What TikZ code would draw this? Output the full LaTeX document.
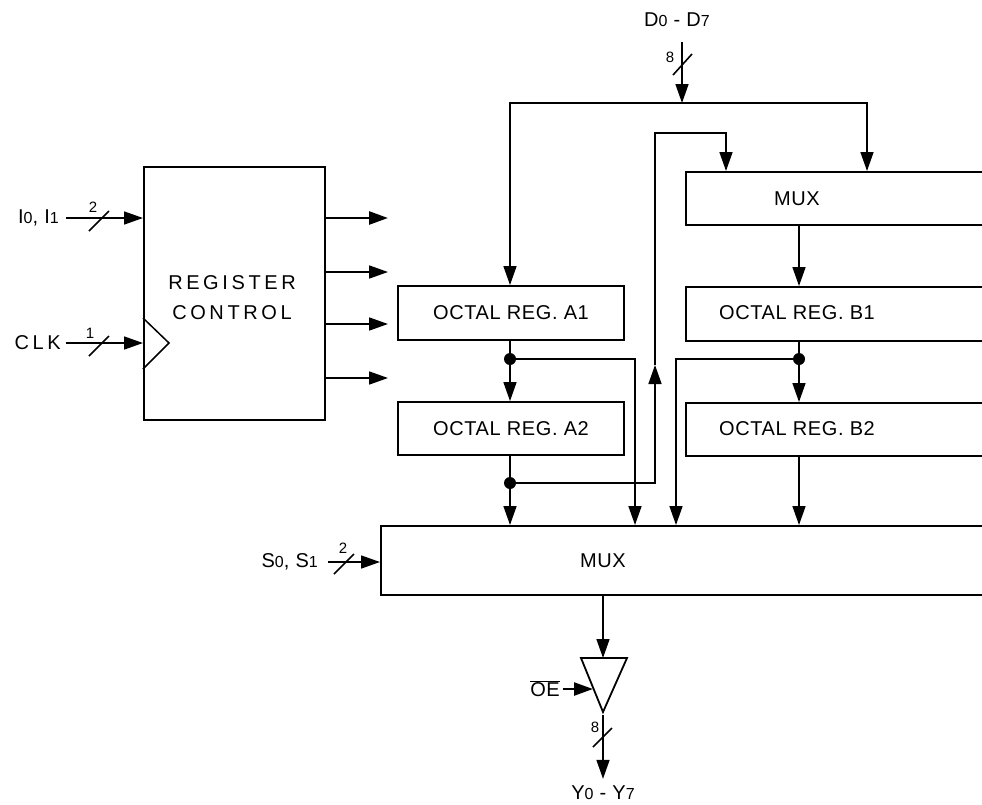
\documentclass[tikz,border=0pt]{standalone}
\usepackage{fontspec}
\setmainfont{Liberation Sans}
\newfontfamily\boxfont[LetterSpace=3]{Liberation Sans}
\newfontfamily\widefont[LetterSpace=18]{Liberation Sans}
\usetikzlibrary{arrows.meta,positioning}
\newcommand{\dg}[1]{{\fontsize{16}{16}\selectfont #1}}
\tikzset{
  blk/.style={draw,rectangle,line width=1.9pt,inner sep=0pt,font=\boxfont\fontsize{20}{22}\selectfont},
  tag/.style={inner sep=0pt,font=\boxfont\fontsize{20}{22}\selectfont},
  wire/.style={line width=1.6pt},
  sig/.style={wire,-{Triangle[length=19pt,width=13pt]}},
  dot/.style={circle,fill,inner sep=0pt,minimum size=12pt},
  bits/.style={inner sep=0pt,font=\fontsize{15}{15}\selectfont},
}
\begin{document}
\begin{tikzpicture}[x=1pt,y=-1pt]
\useasboundingbox (0,0) rectangle (982,804);
\clip (0,0) rectangle (982,804);

% register control
\node[blk,anchor=north west,minimum width=181pt,minimum height=253pt] (reg) at (143,166) {};
\node[tag,align=center,font=\widefont\fontsize{20}{30}\selectfont] (regt) at (232,298) {REGISTER\\CONTROL};
\draw[line width=1.5pt] (143,318) -- (169,343) -- (143,369);
\node[tag,anchor=east,inner xsep=7pt] (ilab) at (66,218) {I\dg{0}, I\dg{1}};
\node[tag,anchor=east,inner xsep=5pt,font=\widefont\fontsize{20}{22}\selectfont] (clk) at (66,343) {CLK};
\draw[sig] (ilab) -- (reg.west |- ilab);
\draw[sig] (clk) -- (reg.west |- clk);
\draw[wire] (89,231) -- (109,211);
\node[bits] at (93,207) {2};
\draw[wire] (89,356) -- (109,336);
\node[bits] at (90,333) {1};
\foreach \y/\w in {218/2.6,272/1.7,324/1.7,378/1.7}
  \draw[sig,line width=\w pt] (reg.east |- 0,\y) -- (388,\y);

% registers
\node[blk,minimum width=226pt,minimum height=54pt] (a1) at (511,313) {OCTAL REG. A1};
\node[blk,minimum width=226pt,minimum height=53pt] (a2) at (511,428.5) {OCTAL REG. A2};
\node[blk,anchor=north west,minimum width=360pt,minimum height=53pt] (muxb) at (685,171) {};
\node[tag] (muxbt) at (797,199) {MUX};
\node[blk,anchor=north west,minimum width=360pt,minimum height=54pt] (b1) at (685,286) {};
\node[tag] (b1t) at (797,313) {OCTAL REG. B1};
\node[blk,anchor=north west,minimum width=360pt,minimum height=53pt] (b2) at (685,402) {};
\node[tag] (b2t) at (797,429) {OCTAL REG. B2};
\node[blk,anchor=north west,minimum width=660pt,minimum height=69pt] (mux) at (380,525) {};
\node[tag] (muxt) at (603,561) {MUX};
\coordinate (colA) at (510,0);
\coordinate (colB) at (799,0);

% data in
\node[tag] (dlab) at (677,20) {D\dg{0} - D\dg{7}};
\coordinate (dj) at (682,103);
\draw[sig] (682,42) -- (dj);
\draw[wire] (673,75) -- (692,54);
\node[bits] at (670,57) {8};
\draw[sig] (dj) -| (a1.north -| colA);
\draw[sig] (dj) -| (muxb.north -| 867,0);

% taps
\node[dot] (da1) at (510,359) {};
\node[dot] (da2) at (510,483) {};
\node[dot] (db1) at (799,359) {};
\draw[sig] (a1.south -| colA) -- (a2.north -| colA);
\draw[sig] (a2.south -| colA) -- (mux.north -| colA);
\draw[sig] (da1) -| (mux.north -| 635,0);
\draw[sig] (db1) -| (mux.north -| 676,0);
\draw[sig] (da2) -| (655,365);
\draw[sig] (655,365) |- (726,133) -- (muxb.north -| 726,0);
\draw[sig] (muxb.south -| colB) -- (b1.north -| colB);
\draw[sig] (b1.south -| colB) -- (b2.north -| colB);
\draw[sig] (b2.south -| colB) -- (mux.north -| colB);

% select
\node[tag,anchor=east] (slab) at (318,562) {S\dg{0}, S\dg{1}};
\draw[sig,shorten <=10pt] (slab) -- (mux.west |- slab);
\draw[wire] (334,574) -- (354,554);
\node[bits] at (343,548) {2};

% output buffer
\coordinate (buf) at (603,658);
\coordinate (bufo) at (603,715);
\draw[sig] (mux.south -| buf) -- (buf);
\draw[line width=1.8pt] (581,658) -- (627,658) -- (603,712) -- cycle;
\node[tag] (oe) at (545,689) {$\overline{\hbox{OE}}$};
\draw[sig,line width=2.4pt,shorten <=3pt] (oe) -- (593,689);
\node[tag] (ylab) at (603,793) {Y\dg{0} - Y\dg{7}};
\draw[sig,shorten >=7pt] (bufo) -- (ylab);
\draw[wire] (593,747) -- (612,728);
\node[bits] at (595,727) {8};
\end{tikzpicture}
\end{document}
